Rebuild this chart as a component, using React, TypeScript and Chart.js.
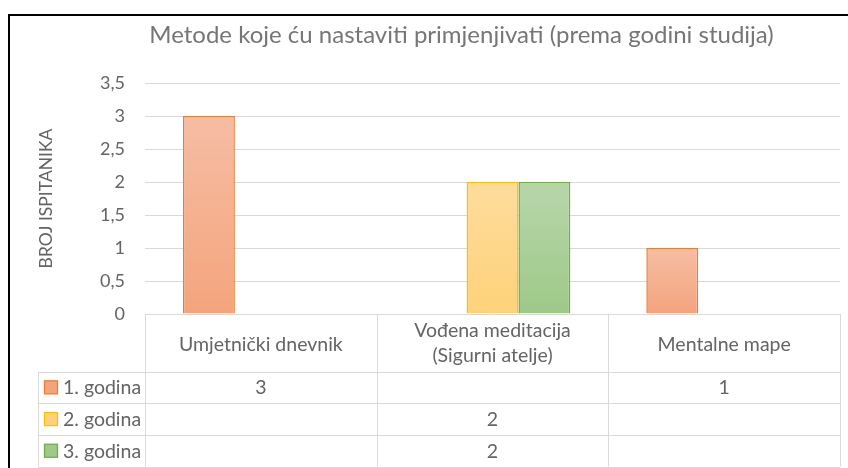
import React, { useEffect, useRef } from 'react';
import { Chart, registerables } from 'chart.js';

Chart.register(...registerables);

// ---- data ----
const chartTitle = 'Metode koje ću nastaviti primjenjivati (prema godini studija)';
const yAxisTitle = 'BROJ ISPITANIKA';
const categories: string[][] = [
  ['Umjetnički dnevnik'],
  ['Vođena meditacija', '(Sigurni atelje)'],
  ['Mentalne mape'],
];
const seriesNames = ['1. godina', '2. godina', '3. godina'];
const godina1: (number | null)[] = [3, null, 1];
const godina2: (number | null)[] = [null, 2, null];
const godina3: (number | null)[] = [null, 2, null];
const yMin = 0;
const yMax = 3.5;
const yStep = 0.5;

// ---- styles ----
const borderColors = ['#ED7D31', '#FFC000', '#70AD47'];
const topColors = ['#F6BDA4', '#FEDC9D', '#B7D6A8'];
const bottomColors = ['#F4A47C', '#FED27A', '#9EC989'];
const FONT = 'Lato, "Noto Sans", sans-serif';
const TEXT = '#646464';
const LINE = '#D9D9D9';

const seriesValues = [godina1, godina2, godina3];

const fmt = (v: number | null) => (v == null ? '' : String(v).replace('.', ','));

const tablePlugin = {
  id: 'excelTable',
  afterDraw(chart: any) {
    const { ctx, chartArea } = chart;
    const xs = chart.scales.x;
    const n = categories.length;
    const centers = categories.map((_, i) => xs.getPixelForValue(i));
    const half = (chartArea.right - chartArea.left) / n / 2;
    const edges = [centers[0] - half, ...centers.map((c: number) => c + half)];
    const top = chartArea.bottom;
    const headerH = 57.5;
    const rowH = 31.7;
    const headerBottom = top + headerH;
    const rows = seriesNames.length;
    const bottom = headerBottom + rows * rowH;
    const labelLeft = 28;
    const a = (v: number) => Math.round(v) + 0.5;

    ctx.save();
    // title
    ctx.fillStyle = '#767676';
    ctx.font = `24px ${FONT}`;
    ctx.textAlign = 'center';
    ctx.textBaseline = 'alphabetic';
    ctx.fillText(chartTitle, 451.5, 26.5);

    // y axis title
    ctx.save();
    ctx.translate(42.3, 182.5);
    ctx.rotate(-Math.PI / 2);
    ctx.fillStyle = TEXT;
    ctx.font = `17.5px ${FONT}`;
    ctx.fillText(yAxisTitle, 0, 0);
    ctx.restore();

    // table lines
    ctx.strokeStyle = LINE;
    ctx.lineWidth = 1;
    const line = (x1: number, y1: number, x2: number, y2: number) => {
      ctx.beginPath();
      ctx.moveTo(x1, y1);
      ctx.lineTo(x2, y2);
      ctx.stroke();
    };
    line(edges[0], a(top), edges[n], a(top));
    for (let r = 0; r <= rows; r++) {
      const y = a(headerBottom + r * rowH);
      line(labelLeft, y, edges[n], y);
    }
    edges.forEach((x: number) => line(a(x), top, a(x), bottom));
    line(a(labelLeft), headerBottom, a(labelLeft), bottom);

    // header text
    ctx.fillStyle = TEXT;
    ctx.font = `19.5px ${FONT}`;
    ctx.textAlign = 'center';
    categories.forEach((lines, i) => {
      if (lines.length === 1) {
        ctx.fillText(lines[0], centers[i], top + 36.7);
      } else {
        lines.forEach((t, j) => ctx.fillText(t, centers[i], top + 23 + j * 25));
      }
    });

    // rows
    seriesNames.forEach((name, r) => {
      const cy = headerBottom + r * rowH + rowH / 2;
      // legend key
      ctx.fillStyle = bottomColors[r];
      ctx.fillRect(34.5, cy - 6.5, 13, 13);
      ctx.strokeStyle = borderColors[r];
      ctx.lineWidth = 1.3;
      ctx.strokeRect(34.5, cy - 6.5, 13, 13);
      ctx.fillStyle = TEXT;
      ctx.textAlign = 'left';
      ctx.fillText(name, 53, cy + 7);
      ctx.textAlign = 'center';
      seriesValues[r].forEach((v, i) => {
        if (v != null) ctx.fillText(fmt(v), centers[i], cy + 7);
      });
    });
    ctx.restore();
  },
};

function gradientFor(idx: number) {
  return (c: any) => {
    const chart = c.chart;
    const y = chart.scales?.y;
    if (!chart.chartArea || !y || c.raw == null) return bottomColors[idx];
    const t = y.getPixelForValue(c.raw);
    const b = y.getPixelForValue(0);
    if (!isFinite(t) || !isFinite(b) || t === b) return bottomColors[idx];
    const g = chart.ctx.createLinearGradient(0, t, 0, b);
    g.addColorStop(0, topColors[idx]);
    g.addColorStop(1, bottomColors[idx]);
    return g;
  };
}

export default function App() {
  const ref = useRef<HTMLCanvasElement | null>(null);
  useEffect(() => {
    if (!ref.current) return;
    const chart = new Chart(ref.current, {
      type: 'bar',
      data: {
        labels: categories.map((c) => c.join(' ')),
        datasets: seriesNames.map((name, i) => ({
          label: name,
          data: seriesValues[i],
          backgroundColor: gradientFor(i),
          borderColor: borderColors[i],
          borderWidth: 1.5,
          barPercentage: 1,
          categoryPercentage: 0.672,
        })),
      },
      options: {
        animation: false,
        responsive: true,
        maintainAspectRatio: false,
        layout: { padding: { top: 67, bottom: 154, left: 0, right: 8 } },
        plugins: {
          legend: { display: false },
          title: { display: false },
          tooltip: { enabled: false },
        },
        scales: {
          x: { display: false },
          y: {
            min: yMin,
            max: yMax,
            ticks: {
              stepSize: yStep,
              padding: 20,
              color: TEXT,
              font: { family: FONT, size: 18 },
              callback: (v: any) => fmt(Number(v)),
            },
            grid: { color: LINE, lineWidth: 1, drawTicks: false },
            border: { display: false },
            afterFit: (s: any) => {
              s.width = 135;
            },
          },
        },
      },
      plugins: [tablePlugin],
    });
    return () => chart.destroy();
  }, []);

  return (
    <div style={{ position: 'fixed', left: 0, top: 0, width: 848, height: 468, overflow: 'hidden', background: '#fff' }}>
      <div
        style={{
          position: 'absolute',
          left: 8,
          top: 14,
          width: 838,
          height: 452,
          borderTop: '2px solid #000',
          borderLeft: '2px solid #000',
        }}
      >
        <canvas ref={ref} />
      </div>
    </div>
  );
}
